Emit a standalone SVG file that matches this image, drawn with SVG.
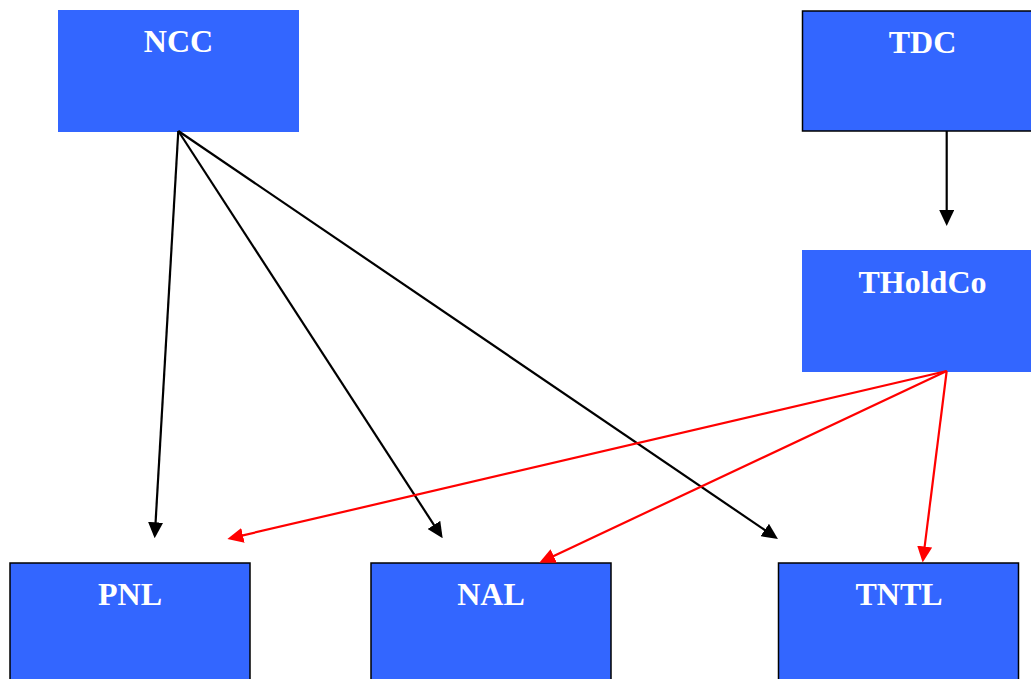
<svg xmlns="http://www.w3.org/2000/svg" width="1031" height="679" viewBox="0 0 1031 679">
<style>
.box{fill:#3366FF}
.bd{stroke:#000;stroke-width:1.5}
.lbl{font-family:"Liberation Serif","Times New Roman",serif;font-weight:bold;font-size:32px;fill:#fff;text-anchor:middle}
.blk{stroke:#000;stroke-width:2.2;fill:none}
.red{stroke:#FF0000;stroke-width:2.2;fill:none}
</style>
<defs>
<marker id="ab" markerUnits="userSpaceOnUse" viewBox="0 0 16 15" markerWidth="16" markerHeight="15" refX="10" refY="7.5" orient="auto"><path d="M0,0 L16,7.5 L0,15 z" fill="#000"/></marker>
<marker id="ar" markerUnits="userSpaceOnUse" viewBox="0 0 16 15" markerWidth="16" markerHeight="15" refX="10" refY="7.5" orient="auto"><path d="M0,0 L16,7.5 L0,15 z" fill="#FF0000"/></marker>
</defs>
<rect width="1031" height="679" fill="#fff"/>
<g id="NCC"><rect class="box" x="58" y="10" width="241" height="122"/><text class="lbl" x="178.5" y="52">NCC</text></g>
<g id="TDC"><rect class="box bd" x="802.5" y="11" width="241" height="120"/><text class="lbl" x="922.5" y="52.5">TDC</text></g>
<g id="THoldCo"><rect class="box" x="802" y="250" width="241" height="122"/><text class="lbl" x="922.5" y="292.5">THoldCo</text></g>
<g id="PNL"><rect class="box bd" x="10" y="563" width="240" height="130"/><text class="lbl" x="130" y="605">PNL</text></g>
<g id="NAL"><rect class="box bd" x="371" y="563" width="240" height="130"/><text class="lbl" x="491" y="605">NAL</text></g>
<g id="TNTL"><rect class="box bd" x="778.5" y="563" width="240" height="130"/><text class="lbl" x="899" y="605">TNTL</text></g>
<g id="connectors">
<line class="blk" x1="178.3" y1="131" x2="155.0" y2="532.3" marker-end="url(#ab)"/>
<line class="blk" x1="178.3" y1="131" x2="439.4" y2="533.3" marker-end="url(#ab)"/>
<line class="blk" x1="178.3" y1="131" x2="773.0" y2="535.6" marker-end="url(#ab)"/>
<line class="blk" x1="946.7" y1="131" x2="946.7" y2="220" marker-end="url(#ab)"/>
<line class="red" x1="946.7" y1="371" x2="233.2" y2="537.6" marker-end="url(#ar)"/>
<line class="red" x1="946.7" y1="371" x2="544.7" y2="560.2" marker-end="url(#ar)"/>
<line class="red" x1="946.7" y1="371" x2="923.4" y2="556.5" marker-end="url(#ar)"/>
</g>
</svg>
